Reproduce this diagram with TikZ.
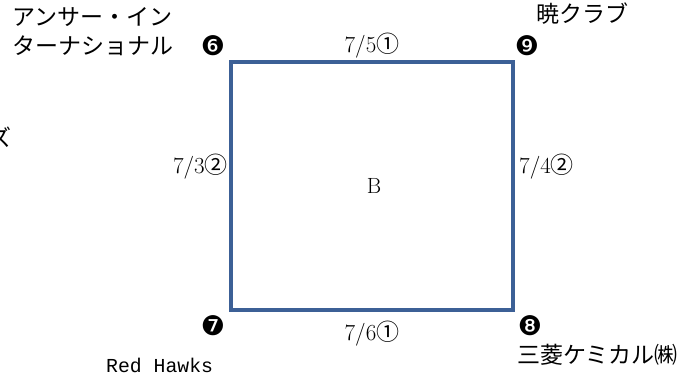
\documentclass[tikz,border=0pt]{standalone}
\usepackage{fontspec}
\newfontfamily\jpfont{Noto Sans CJK JP}
\newfontfamily\dingfont{DejaVu Sans}
\newfontfamily\monofont{Liberation Mono}
\definecolor{edgeblue}{RGB}{60,96,150}
\begin{document}
\begin{tikzpicture}[x=1pt,y=-1pt,
  jp/.style={inner sep=0pt,font=\jpfont\fontsize{23}{29}\selectfont},
  datelbl/.style={inner sep=0pt,font=\fontsize{23}{28}\selectfont},
  numlbl/.style={inner sep=0pt,font=\dingfont\fontsize{27}{30}\selectfont},
  side/.style={draw=edgeblue,line width=3.5pt,line join=miter}]
\useasboundingbox (0,0) rectangle (686,378);
\coordinate (c6) at (231,62);
\coordinate (c9) at (513,62);
\coordinate (c8) at (513,310);
\coordinate (c7) at (231,310);
\draw[side] (c6) -- (c9) -- (c8) -- (c7) -- cycle;
% team names
\node[jp,anchor=west,align=left] (t6) at (12,32) {アンサー・イン\\ターナショナル};
\node[jp,anchor=west] (t9) at (536,14) {暁クラブ};
\node[jp,anchor=east] (tz) at (12,137) {ズ};
\node[inner sep=0pt,anchor=west,font=\monofont\fontsize{19.8}{24}\selectfont] (t7) at (106,365) {Red Hawks};
\node[jp,anchor=west] (t8) at (517,355) {三菱ケミカル㈱};
% numbers
\node[numlbl] (n6) at (213,46) {❻};
\node[numlbl] (n9) at (527,46) {❾};
\node[numlbl] (n7) at (213,326) {❼};
\node[numlbl] (n8) at (530,326) {❽};
% dates
\node[datelbl] (d5) at (372,46) {7/5{\jpfont ①}};
\node[datelbl] (d6) at (372,334) {7/6{\jpfont ①}};
\node[datelbl,anchor=east] (d3) at (228,167) {7/3{\jpfont ②}};
\node[datelbl,anchor=west] (d4) at (519,167) {7/4{\jpfont ②}};
\node[inner sep=0pt,font=\fontsize{22}{26}\selectfont] (b) at (374,186) {B};
\end{tikzpicture}
\end{document}
